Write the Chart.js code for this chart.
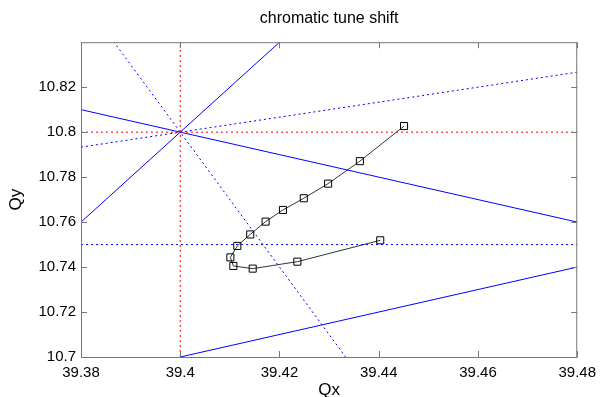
<!DOCTYPE html>
<html>
<head>
<meta charset="utf-8">
<script src="https://cdn.jsdelivr.net/npm/chart.js@4/dist/chart.umd.min.js"></script>
<style>
  html, body { margin: 0; padding: 0; background: #fff; }
</style>
</head>
<body>
<canvas id="tune-chart" width="603" height="397"></canvas>
<script>
// tune footprint vs momentum
var qx = [39.4451, 39.4362, 39.4298, 39.4249, 39.4207, 39.4172, 39.4141, 39.4115, 39.4101, 39.4107, 39.4146, 39.4236, 39.4403];
var qy = [10.8027, 10.7871, 10.7771, 10.7706, 10.7654, 10.7602, 10.7545, 10.7494, 10.7443, 10.7405, 10.7393, 10.7424, 10.7519];

var xTicks = [39.38, 39.4, 39.42, 39.44, 39.46, 39.48];
var yTicks = [10.7, 10.72, 10.74, 10.76, 10.78, 10.8, 10.82];

// resonance lines, each [x1, y1, x2, y2]
var redDotted = [[39.4, 10.7, 39.4, 10.84], [39.38, 10.8, 39.48, 10.8]];
var blueSolid = [[39.38, 10.76, 39.43, 10.86], [39.38, 10.81, 39.48, 10.76], [39.4, 10.7, 39.48, 10.74]];
var blueDotted = [[39.38, 10.75, 39.48, 10.75], [39.38, 10.79333, 39.48, 10.82667], [39.38, 10.86, 39.43333, 10.7]];

function seg(s) {
    return [{x: s[0], y: s[1]}, {x: s[2], y: s[3]}];
}

var datasets = [];
redDotted.forEach(function(s) {
    datasets.push({ data: seg(s), borderColor: '#ff0000', borderWidth: 1, borderDash: [2, 3], pointRadius: 0 });
});
blueDotted.forEach(function(s) {
    datasets.push({ data: seg(s), borderColor: '#0000ff', borderWidth: 1, borderDash: [2, 3], pointRadius: 0 });
});
blueSolid.forEach(function(s) {
    datasets.push({ data: seg(s), borderColor: '#0000ff', borderWidth: 1, pointRadius: 0 });
});

var pts = [];
for (var i in qx) {
    pts.push({x: qx[i], y: qy[i]});
}
datasets.push({
    data: pts,
    borderColor: '#333',
    borderWidth: 1,
    pointStyle: 'rect',
    pointRadius: 5,
    pointBorderColor: '#000',
    pointBackgroundColor: 'rgba(0,0,0,0)',
    pointBorderWidth: 1
});

function fmt(v) {
    return parseFloat(v.toFixed(2)).toString();
}

// matlab style box with inward ticks on all sides
var boxPlugin = {
    id: 'box',
    afterDatasetsDraw: function(chart) {
        var ctx = chart.ctx;
        var a = chart.chartArea;
        var xs = chart.scales.x, ys = chart.scales.y;
        var tl = 6;
        ctx.save();
        ctx.strokeStyle = '#777';
        ctx.lineWidth = 1;
        ctx.strokeRect(a.left + 0.5, a.top + 0.5, a.right - a.left - 1, a.bottom - a.top);
        ctx.beginPath();
        xTicks.forEach(function(v) {
            var px = Math.round(xs.getPixelForValue(v)) + 0.5;
            ctx.moveTo(px, a.bottom); ctx.lineTo(px, a.bottom - tl);
            ctx.moveTo(px, a.top); ctx.lineTo(px, a.top + tl);
        });
        yTicks.forEach(function(v) {
            var py = Math.round(ys.getPixelForValue(v)) + 0.5;
            ctx.moveTo(a.left, py); ctx.lineTo(a.left + tl, py);
            ctx.moveTo(a.right, py); ctx.lineTo(a.right - tl, py);
        });
        ctx.stroke();
        ctx.restore();
    }
};

var family = '"Liberation Sans", Arial, sans-serif';
var font = { family: family, size: 15 };
var labelFont = { family: family, size: 17 };

var chart = new Chart(document.getElementById('tune-chart'), {
    type: 'scatter',
    data: { datasets: datasets },
    options: {
        responsive: false,
        animation: false,
        showLine: true,
        layout: { padding: { left: 0, right: 23, top: 0, bottom: 0 } },
        plugins: {
            legend: { display: false },
            tooltip: { enabled: false },
            title: {
                display: true,
                fullSize: false,
                text: 'chromatic tune shift',
                color: '#000',
                font: { family: family, size: 16, weight: 'normal' },
                padding: { top: 9, bottom: 14 }
            }
        },
        scales: {
            x: {
                type: 'linear',
                min: 39.38,
                max: 39.48,
                afterBuildTicks: function(scale) {
                    scale.ticks = xTicks.map(function(v) { return {value: v}; });
                },
                afterFit: function(scale) { scale.height = 40; },
                grid: { display: false, drawTicks: false },
                border: { display: false },
                ticks: { color: '#000', font: font, padding: 7, maxRotation: 0, autoSkip: false,
                    callback: function(v) { return fmt(v); } },
                title: { display: true, text: 'Qx', color: '#000', font: labelFont, padding: { top: 0, bottom: -4 } }
            },
            y: {
                type: 'linear',
                min: 10.7,
                max: 10.84,
                afterBuildTicks: function(scale) {
                    scale.ticks = yTicks.map(function(v) { return {value: v}; });
                },
                afterFit: function(scale) { scale.width = 81; },
                grid: { display: false, drawTicks: false },
                border: { display: false },
                ticks: { color: '#000', font: font, padding: 5, autoSkip: false,
                    callback: function(v) { return fmt(v); } },
                title: { display: true, text: 'Qy', color: '#000', font: labelFont, padding: { top: 6, bottom: 0 } }
            }
        }
    },
    plugins: [boxPlugin]
});
</script>
</body>
</html>
